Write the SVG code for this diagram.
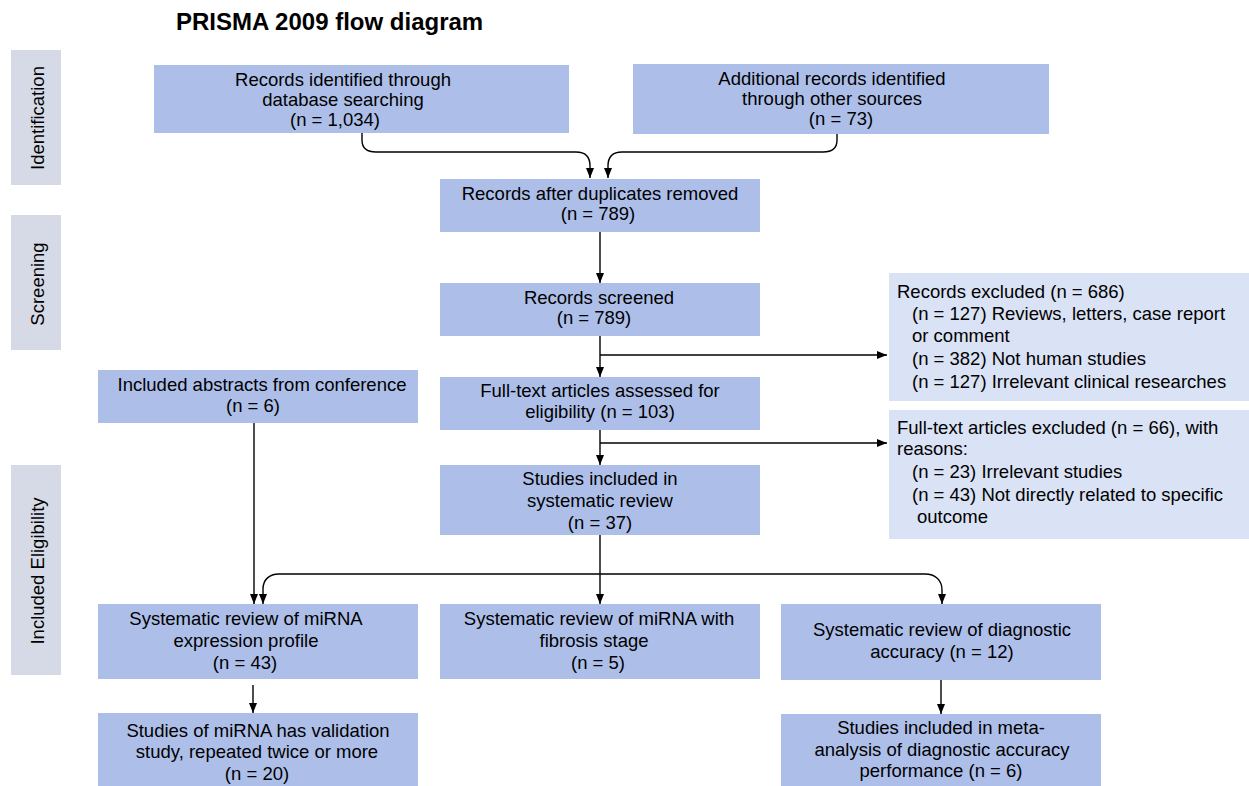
<svg xmlns="http://www.w3.org/2000/svg" width="1249" height="786" viewBox="0 0 1249 786">
<style>
text{font-family:"Liberation Sans",Arial,sans-serif;font-size:18.5px;fill:#000}
.c{text-anchor:middle}
.title{font-size:24px;font-weight:bold}
.main{fill:#adbfe9}
.light{fill:#dae2f5}
.side{fill:#d5dae6}
.ln{fill:none;stroke:#000;stroke-width:1.4}
</style>
<defs>
<marker id="ah" markerUnits="userSpaceOnUse" markerWidth="10" markerHeight="8" refX="10" refY="4" orient="auto">
<path d="M0,0 L10,4 L0,8 z" fill="#000"/>
</marker>
</defs>
<rect width="1249" height="786" fill="#fff"/>
<text class="title" x="176" y="30">PRISMA 2009 flow diagram</text>

<g id="stage-identification"><rect class="side" x="11" y="50" width="50" height="135"/><text class="c" transform="translate(44,118) rotate(-90)">Identification</text></g>
<g id="stage-screening"><rect class="side" x="11" y="215" width="50" height="135"/><text class="c" transform="translate(44,284) rotate(-90)">Screening</text></g>
<g id="stage-included"><rect class="side" x="11" y="465" width="50" height="210"/><text class="c" transform="translate(44,571) rotate(-90)">Included Eligibility</text></g>

<g id="connectors">
<path class="ln" d="M362,133 V140 C362,148 366,152 376,152 H576 C585,152 590,157 590,166 V178" marker-end="url(#ah)"/>
<path class="ln" d="M837,134 V140 C837,148 833,152 823,152 H622 C613,152 608,157 608,166 V178" marker-end="url(#ah)"/>
<path class="ln" d="M600,232 V283" marker-end="url(#ah)"/>
<path class="ln" d="M600,336 V377" marker-end="url(#ah)"/>
<path class="ln" d="M600,355 H887" marker-end="url(#ah)"/>
<path class="ln" d="M600,430 V465" marker-end="url(#ah)"/>
<path class="ln" d="M600,443 H887" marker-end="url(#ah)"/>
<path class="ln" d="M600,535 V604" marker-end="url(#ah)"/>
<path class="ln" d="M925,574 H279 C269,574 263,580 263,589 V604" marker-end="url(#ah)"/>
<path class="ln" d="M925,574 C935,574 942,580 942,590 V604" marker-end="url(#ah)"/>
<path class="ln" d="M254,423 V604" marker-end="url(#ah)"/>
<path class="ln" d="M253,685 V713" marker-end="url(#ah)"/>
<path class="ln" d="M941,680 V714" marker-end="url(#ah)"/>
</g>

<g id="records-identified"><rect class="main" x="154" y="65" width="415" height="68"/>
<text class="c" x="343" y="86">Records identified through</text>
<text class="c" x="343" y="106">database searching</text>
<text class="c" x="335" y="126">(n = 1,034)</text></g>

<g id="additional-records"><rect class="main" x="633" y="64" width="416" height="70"/>
<text class="c" x="832" y="85">Additional records identified</text>
<text class="c" x="832" y="105">through other sources</text>
<text class="c" x="841" y="125">(n = 73)</text></g>

<g id="after-duplicates"><rect class="main" x="440" y="179" width="320" height="53"/>
<text class="c" x="600" y="200">Records after duplicates removed</text>
<text class="c" x="598" y="220">(n = 789)</text></g>

<g id="records-screened"><rect class="main" x="440" y="283" width="320" height="53"/>
<text class="c" x="599" y="304">Records screened</text>
<text class="c" x="594" y="324">(n = 789)</text></g>

<g id="records-excluded"><rect class="light" x="889" y="273" width="360" height="128"/>
<text x="897" y="298">Records excluded (n = 686)</text>
<text x="912" y="320">(n = 127) Reviews, letters, case report</text>
<text x="912" y="342">or comment</text>
<text x="912" y="365">(n = 382) Not human studies</text>
<text x="912" y="388">(n = 127) Irrelevant clinical researches</text></g>

<g id="fulltext-assessed"><rect class="main" x="440" y="377" width="320" height="53"/>
<text class="c" x="600" y="397">Full-text articles assessed for</text>
<text class="c" x="600" y="418">eligibility (n = 103)</text></g>

<g id="fulltext-excluded"><rect class="light" x="889" y="410" width="360" height="129"/>
<text x="897" y="434">Full-text articles excluded (n = 66), with</text>
<text x="897" y="455">reasons:</text>
<text x="912" y="478">(n = 23) Irrelevant studies</text>
<text x="912" y="501">(n = 43) Not directly related to specific</text>
<text x="917" y="523">outcome</text></g>

<g id="studies-included"><rect class="main" x="440" y="465" width="320" height="70"/>
<text class="c" x="600" y="485">Studies included in</text>
<text class="c" x="600" y="507">systematic review</text>
<text class="c" x="600" y="529">(n = 37)</text></g>

<g id="conference-abstracts"><rect class="main" x="98" y="370" width="320" height="53"/>
<text class="c" x="262" y="391">Included abstracts from conference</text>
<text class="c" x="253" y="412">(n = 6)</text></g>

<g id="expression-profile"><rect class="main" x="98" y="604" width="320" height="75"/>
<text class="c" x="246" y="625">Systematic review of miRNA</text>
<text class="c" x="246" y="647">expression profile</text>
<text class="c" x="245" y="669">(n = 43)</text></g>

<g id="fibrosis-stage"><rect class="main" x="440" y="604" width="320" height="75"/>
<text class="c" x="599" y="625">Systematic review of miRNA with</text>
<text class="c" x="594" y="647">fibrosis stage</text>
<text class="c" x="598" y="669">(n = 5)</text></g>

<g id="diagnostic-accuracy"><rect class="main" x="781" y="604" width="320" height="76"/>
<text class="c" x="942" y="636">Systematic review of diagnostic</text>
<text class="c" x="942" y="658">accuracy (n = 12)</text></g>

<g id="validation-studies"><rect class="main" x="98" y="713" width="320" height="73"/>
<text class="c" x="258" y="737">Studies of miRNA has validation</text>
<text class="c" x="257" y="758">study, repeated twice or more</text>
<text class="c" x="257" y="780">(n = 20)</text></g>

<g id="meta-analysis"><rect class="main" x="781" y="714" width="320" height="72"/>
<text class="c" x="941" y="734">Studies included in meta-</text>
<text class="c" x="942" y="756">analysis of diagnostic accuracy</text>
<text class="c" x="941" y="777">performance (n = 6)</text></g>
</svg>
